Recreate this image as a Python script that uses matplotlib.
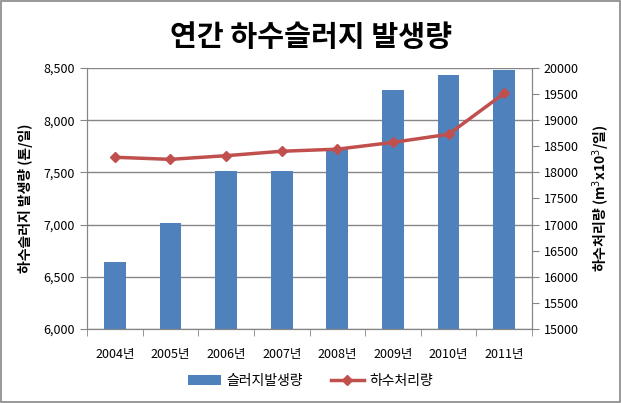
import matplotlib.pyplot as plt
import numpy as np

plt.rcParams['font.family'] = ['Noto Sans CJK KR', 'DejaVu Sans']

years = ['2004년', '2005년', '2006년', '2007년', '2008년', '2009년', '2010년', '2011년']
sludge = [6645, 7015, 7513, 7513, 7728, 8289, 8433, 8481]
sewage = [18290, 18250, 18320, 18405, 18445, 18575, 18730, 19515]

bar_color = '#4F81BD'
line_color = '#C0504D'
axis_gray = '#868686'


def main():
    fig = plt.figure(figsize=(6.21, 4.03), dpi=100)
    ax = fig.add_axes([87 / 621, 1 - 329 / 403, 445 / 621, 261 / 403])
    x = np.arange(len(years))

    ax.bar(x, sludge, width=0.39, color=bar_color, zorder=2, label='슬러지발생량')
    ax.set_ylim(6000, 8500)
    ax.set_xlim(-0.5, len(years) - 0.5)
    ax.set_yticks(np.arange(6000, 8501, 500))
    ax.set_yticklabels([f'{v:,}' for v in range(6000, 8501, 500)])
    ax.yaxis.grid(True, color=axis_gray, linewidth=1, zorder=0)
    ax.set_axisbelow(True)
    ax.set_xticks(x)
    ax.set_xticklabels(years)
    ax.set_xticks(np.arange(-0.5, len(years)), minor=True)
    ax.tick_params(axis='x', which='major', length=0, pad=14, labelsize=9)
    ax.tick_params(axis='x', which='minor', length=5, color=axis_gray, direction='out')
    ax.tick_params(axis='y', length=5, color=axis_gray, labelsize=9)
    ax.set_ylabel('하수슬러지 발생량 (톤/일)', fontsize=10, fontweight='bold', labelpad=8)
    ax.spines['top'].set_visible(False)
    for s in ['left', 'right', 'bottom']:
        ax.spines[s].set_color(axis_gray)

    ax2 = ax.twinx()
    ax2.plot(x, sewage, color=line_color, linewidth=2.5, marker='D', markersize=5,
             zorder=3, label='하수처리량')
    ax2.set_ylim(15000, 20000)
    ax2.set_yticks(np.arange(15000, 20001, 500))
    ax2.tick_params(axis='y', length=5, color=axis_gray, labelsize=9)
    ax2.set_ylabel('하수처리량 (m$^3$x10$^3$/일)', fontsize=10, fontweight='bold',
                   rotation=90, labelpad=8)
    ax2.spines['top'].set_visible(False)
    for s in ['left', 'right', 'bottom']:
        ax2.spines[s].set_color(axis_gray)

    fig.suptitle('연간 하수슬러지 발생량', y=1 - 37 / 403, va='center',
                 fontsize=21, fontweight='bold')

    h1, l1 = ax.get_legend_handles_labels()
    h2, l2 = ax2.get_legend_handles_labels()
    fig.legend(h1 + h2, l1 + l2, loc='center', bbox_to_anchor=(0.5, 1 - 381 / 403),
               ncol=2, frameon=False, fontsize=10, handlelength=2.4, handletextpad=0.4,
               columnspacing=2.0)

    fig.patches.append(plt.Rectangle((0.002, 0.002), 0.996, 0.996, transform=fig.transFigure,
                                     fill=False, edgecolor=axis_gray, linewidth=1.2))
    fig.savefig('out.png', dpi=100)


main()
